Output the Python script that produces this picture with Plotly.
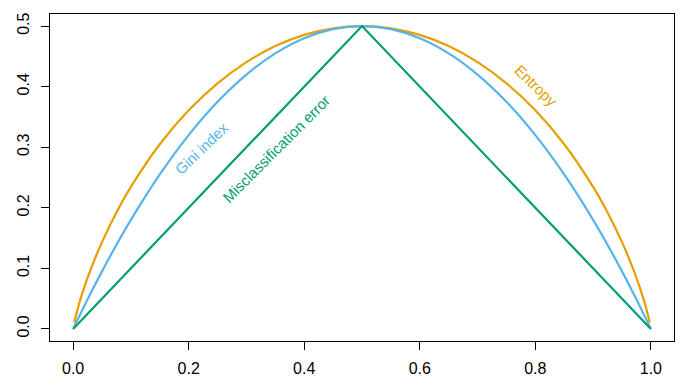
import plotly.graph_objects as go

# Node purity measures vs proportion p
p_gini = [0.0, 0.01, 0.02, 0.03, 0.05, 0.075, 0.1, 0.15, 0.2, 0.25, 0.3, 0.35, 0.4, 0.45, 0.5,
          0.55, 0.6, 0.65, 0.7, 0.75, 0.8, 0.85, 0.9, 0.925, 0.95, 0.97, 0.98, 0.99, 1.0]
gini = [0.0, 0.0198, 0.0392, 0.0582, 0.095, 0.1388, 0.18, 0.255, 0.32, 0.375, 0.42, 0.455, 0.48, 0.495, 0.5,
        0.495, 0.48, 0.455, 0.42, 0.375, 0.32, 0.255, 0.18, 0.1388, 0.095, 0.0582, 0.0392, 0.0198, 0.0]

p_entropy = [0.002, 0.01, 0.02, 0.03, 0.05, 0.075, 0.1, 0.15, 0.2, 0.25, 0.3, 0.35, 0.4, 0.45, 0.5,
             0.55, 0.6, 0.65, 0.7, 0.75, 0.8, 0.85, 0.9, 0.925, 0.95, 0.97, 0.98, 0.99, 0.998]
entropy = [0.0104, 0.0404, 0.0707, 0.0972, 0.1432, 0.1922, 0.2345, 0.3049, 0.361, 0.4056, 0.4406, 0.467, 0.4855, 0.4964, 0.5,
           0.4964, 0.4855, 0.467, 0.4406, 0.4056, 0.361, 0.3049, 0.2345, 0.1922, 0.1432, 0.0972, 0.0707, 0.0404, 0.0104]

p_misclass = [0.0, 0.5, 1.0]
misclass = [0.0, 0.5, 0.0]

x_ticks = [0.0, 0.2, 0.4, 0.6, 0.8, 1.0]
x_tick_labels = ["0.0", "0.2", "0.4", "0.6", "0.8", "1.0"]
y_ticks = [0.0, 0.1, 0.2, 0.3, 0.4, 0.5]
y_tick_labels = ["0.0", "0.1", "0.2", "0.3", "0.4", "0.5"]

ORANGE = "#E69F00"
BLUE = "#56B4E9"
GREEN = "#009E73"
FONT = "Liberation Sans, Helvetica, Arial, sans-serif"

fig = go.Figure()
fig.add_trace(go.Scatter(x=p_entropy, y=entropy, mode="lines",
                         line=dict(color=ORANGE, width=2.2, shape="spline"), showlegend=False))
fig.add_trace(go.Scatter(x=p_gini, y=gini, mode="lines",
                         line=dict(color=BLUE, width=2.2, shape="spline"), showlegend=False))
fig.add_trace(go.Scatter(x=p_misclass, y=misclass, mode="lines",
                         line=dict(color=GREEN, width=2.2), showlegend=False))

fig.add_annotation(x=0.222, y=0.298, text="Gini index", textangle=-44, showarrow=False,
                   font=dict(color=BLUE, size=15, family=FONT))
fig.add_annotation(x=0.352, y=0.298, text="Misclassification error", textangle=-45, showarrow=False,
                   font=dict(color=GREEN, size=15, family=FONT))
fig.add_annotation(x=0.801, y=0.402, text="Entropy", textangle=44, showarrow=False,
                   font=dict(color=ORANGE, size=15, family=FONT))

# page body has an 8px default margin; size the figure to fit the 690x388 window
fig.update_layout(
    width=674, height=372,
    margin=dict(l=42, r=8, t=6, b=39),
    paper_bgcolor="white", plot_bgcolor="white",
    font=dict(family=FONT, size=16, color="black"),
    xaxis=dict(range=[-0.04, 1.04], tickvals=x_ticks, ticktext=x_tick_labels, automargin=False,
               showgrid=False, zeroline=False, showline=True, linecolor="black", linewidth=1,
               mirror=True, ticks="outside", ticklen=8, tickcolor="black", ticklabelstandoff=5),
    yaxis=dict(range=[-0.02, 0.52], tickvals=y_ticks, ticktext=y_tick_labels, tickangle=-90,
               automargin=False, ticklabelstandoff=6,
               showgrid=False, zeroline=False, showline=True, linecolor="black", linewidth=1,
               mirror=True, ticks="outside", ticklen=8, tickcolor="black"),
)

fig.write_html("out.html")
